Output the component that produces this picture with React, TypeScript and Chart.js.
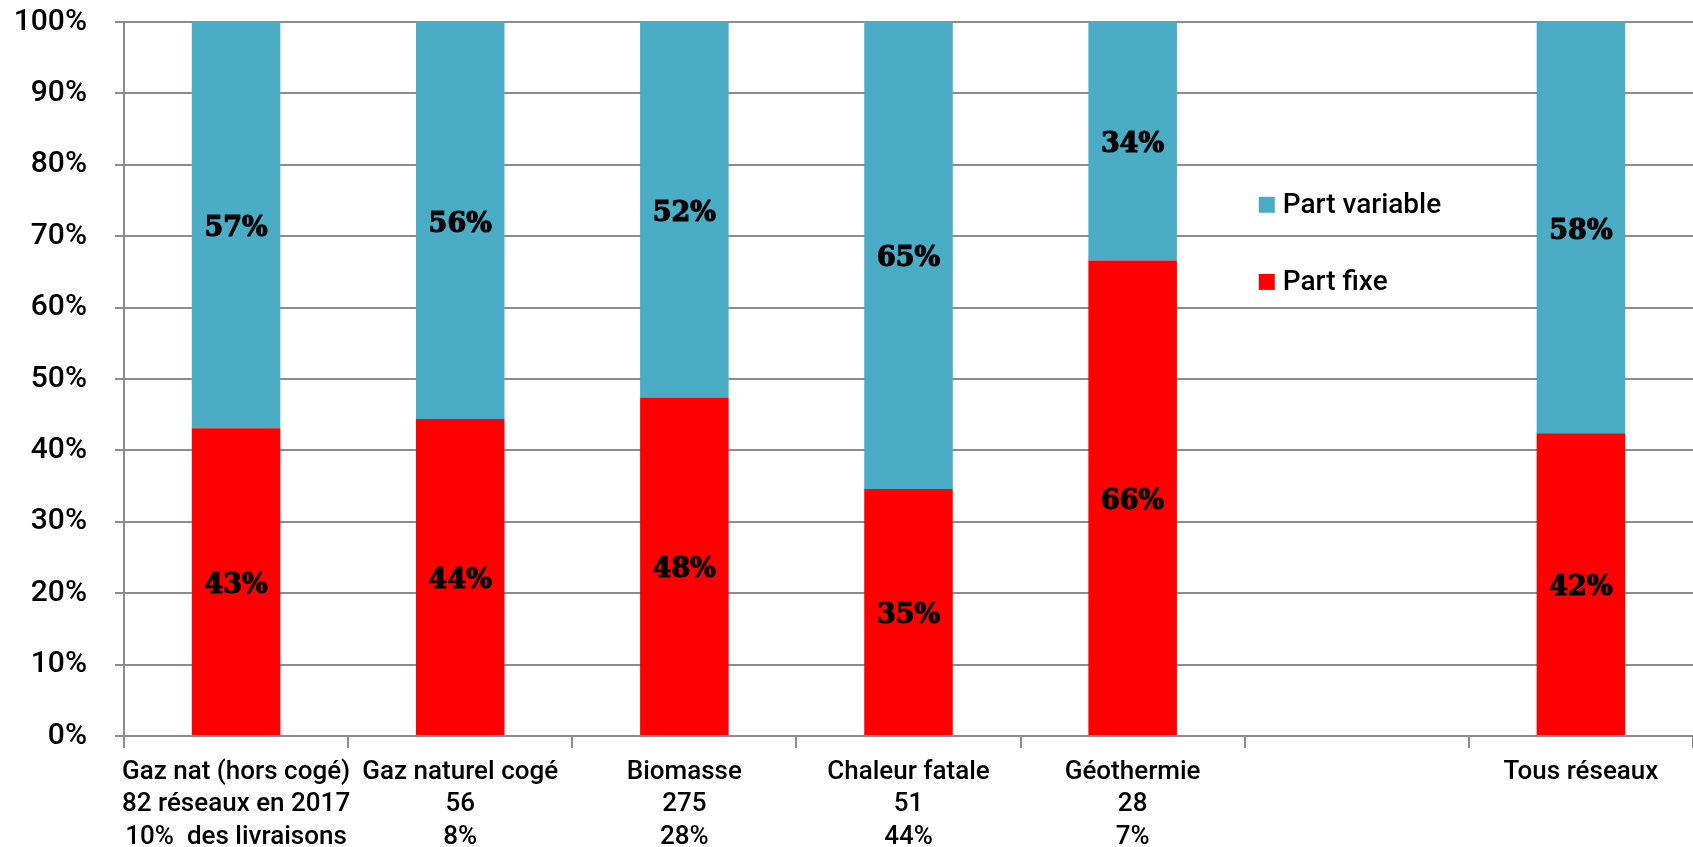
import React, { useEffect, useRef } from 'react';
import { Chart, registerables } from 'chart.js';

Chart.register(...registerables);

const categoryNames = ['Gaz nat (hors cogé)', 'Gaz naturel cogé', 'Biomasse', 'Chaleur fatale', 'Géothermie', '', 'Tous réseaux'];
const networkCounts = ['82 réseaux en 2017', '56', '275', '51', '28', '', ''];
const deliveryShares = ['10%  des livraisons', '8%', '28%', '44%', '7%', '', ''];

const partFixe = [43.1, 44.4, 47.4, 34.6, 66.6, null, 42.4];
const partVariable = [56.9, 55.6, 52.6, 65.4, 33.4, null, 57.6];
const partFixeLabels = ['43%', '44%', '48%', '35%', '66%', '', '42%'];
const partVariableLabels = ['57%', '56%', '52%', '65%', '34%', '', '58%'];

const seriesNames = ['Part fixe', 'Part variable'];
const seriesColors = ['#FF0000', '#4BACC6'];

const TICK_FONT = 'Roboto';

const dataLabelPlugin = {
  id: 'barValueLabels',
  afterDatasetsDraw(chart: any) {
    const ctx = chart.ctx;
    const labelSets = [partFixeLabels, partVariableLabels];
    ctx.save();
    ctx.font = 'bold 27px "DejaVu Serif"';
    ctx.fillStyle = '#000000';
    ctx.strokeStyle = '#000000';
    ctx.lineWidth = 1.2;
    ctx.lineJoin = 'round';
    ctx.textAlign = 'center';
    ctx.textBaseline = 'middle';
    chart.data.datasets.forEach((ds: any, di: number) => {
      const meta = chart.getDatasetMeta(di);
      meta.data.forEach((el: any, i: number) => {
        const txt = labelSets[di][i];
        if (!txt || ds.data[i] == null) return;
        const yMid = (el.y + el.base) / 2;
        ctx.fillText(txt, el.x, yMid + 4);
        ctx.strokeText(txt, el.x, yMid + 4);
      });
    });
    ctx.restore();
  },
};

const legendPlugin = {
  id: 'insideLegend',
  afterDraw(chart: any) {
    const ctx = chart.ctx;
    const xs = chart.scales.x;
    const ys = chart.scales.y;
    const left = xs.getPixelForValue(5) - 98;
    const entries = [
      { name: seriesNames[1], color: seriesColors[1], y: ys.getPixelForValue(74.4) },
      { name: seriesNames[0], color: seriesColors[0], y: ys.getPixelForValue(63.6) },
    ];
    ctx.save();
    ctx.font = `500 28px ${TICK_FONT}`;
    ctx.textAlign = 'left';
    ctx.textBaseline = 'middle';
    entries.forEach((e) => {
      ctx.fillStyle = e.color;
      ctx.fillRect(left, e.y - 8, 16, 16);
      ctx.fillStyle = '#000000';
      ctx.fillText(e.name, left + 24, e.y + 1);
    });
    ctx.restore();
  },
};

export default function App() {
  const canvasRef = useRef<HTMLCanvasElement | null>(null);

  useEffect(() => {
    if (!canvasRef.current) return;
    const labels = categoryNames.map((n, i) => {
      const lines = [n, networkCounts[i], deliveryShares[i]].filter((s) => s !== '');
      return lines.length ? lines : '';
    });
    const chart = new Chart(canvasRef.current, {
      type: 'bar',
      data: {
        labels,
        datasets: [
          {
            label: seriesNames[0],
            data: partFixe,
            backgroundColor: seriesColors[0],
            categoryPercentage: 1,
            barPercentage: 0.395,
          },
          {
            label: seriesNames[1],
            data: partVariable,
            backgroundColor: seriesColors[1],
            categoryPercentage: 1,
            barPercentage: 0.395,
          },
        ],
      },
      options: {
        animation: false,
        responsive: true,
        maintainAspectRatio: false,
        layout: { padding: { top: 22, right: 0, left: 0, bottom: 0 } },
        plugins: {
          legend: { display: false },
          tooltip: { enabled: false },
        },
        scales: {
          x: {
            stacked: true,
            offset: true,
            afterFit(scale: any) {
              scale.height = 111;
              scale.paddingLeft = 0;
              scale.paddingRight = 0;
            },
            grid: {
              offset: true,
              drawOnChartArea: false,
              drawTicks: true,
              tickLength: 12,
              color: '#8c8c8c',
              lineWidth: 2,
            },
            border: { display: true, color: '#8c8c8c', width: 2 },
            ticks: {
              autoSkip: false,
              maxRotation: 0,
              minRotation: 0,
              padding: 8,
              color: '#000000',
              font: { family: TICK_FONT, size: 26, weight: '500', lineHeight: 1.25 },
            },
          },
          y: {
            stacked: true,
            min: 0,
            max: 100,
            afterFit(scale: any) {
              scale.width = 124;
              scale.paddingTop = 0;
              scale.paddingBottom = 0;
            },
            grid: {
              color: '#8c8c8c',
              lineWidth: 2,
              tickLength: 9,
              drawTicks: true,
            },
            border: { display: true, color: '#8c8c8c', width: 2 },
            ticks: {
              stepSize: 10,
              padding: 28,
              color: '#000000',
              font: { family: TICK_FONT, size: 30, weight: '500' },
              callback: (v: any) => `${v}%`,
            },
          },
        },
      },
      plugins: [dataLabelPlugin, legendPlugin],
    });
    return () => chart.destroy();
  }, []);

  return (
    <div style={{ position: 'fixed', left: 0, top: 0, width: '1693px', height: '847px', background: '#ffffff' }}>
      <canvas ref={canvasRef} />
    </div>
  );
}
